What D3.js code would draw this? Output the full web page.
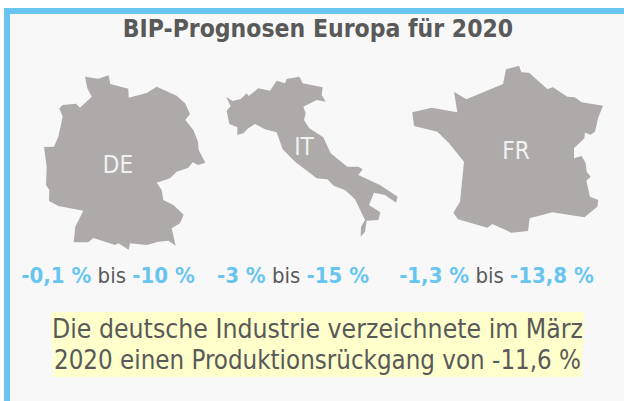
<!DOCTYPE html>
<html>
<head>
<meta charset="utf-8">
<style>
  html, body { margin: 0; padding: 0; background: #fff; }
  svg { display: block; }
  text { font-family: "DejaVu Sans Condensed", "DejaVu Sans", sans-serif; }
</style>
</head>
<body>
<svg id="chart"></svg>
<script src="https://d3js.org/d3.v7.min.js"></script>
<script>

  var title = "BIP-Prognosen Europa für 2020";
  var countries = ["DE", "IT", "FR"];
  var lowForecast = ["-0,1 %", "-3 %", "-1,3 %"];
  var highForecast = ["-10 %", "-15 %", "-13,8 %"];
  var noteLines = [
    "Die deutsche Industrie verzeichnete im März",
    "2020 einen Produktionsrückgang von -11,6 %"
  ];

  // outlines, in 3x crop units
  var outlineDE = [[255,230],[295,236],[326,226],[331,252],[385,266],[386,293],[440,279],[470,260],[530,287],[555,310],[570,342],[556,360],[580,390],[594,425],[596,450],[616,488],[594,495],[578,487],[565,503],[530,515],[510,535],[470,548],[485,570],[490,600],[520,615],[551,644],[540,670],[515,685],[527,737],[505,722],[475,725],[440,735],[390,730],[386,749],[355,730],[345,735],[280,714],[265,727],[221,727],[226,680],[250,632],[175,618],[147,603],[148,570],[138,555],[140,500],[132,441],[162,440],[175,410],[188,350],[178,325],[188,315],[228,311],[240,323],[275,290],[262,265]];
  var outlineIT = [[49,141],[68,153],[92,147],[110,130],[116,138],[145,115],[180,122],[200,92],[225,100],[230,87],[268,80],[278,100],[338,112],[335,135],[347,155],[320,150],[280,170],[287,190],[282,210],[298,235],[340,262],[362,310],[412,350],[445,350],[458,358],[445,375],[510,405],[563,440],[558,458],[525,435],[492,428],[477,465],[511,487],[505,510],[470,512],[465,545],[452,560],[453,530],[465,510],[435,448],[405,420],[372,408],[352,388],[320,385],[255,335],[218,298],[200,247],[165,238],[135,222],[115,235],[100,250],[82,255],[82,232],[58,222],[50,182],[62,168]];
  var outlineFR = [[25,187],[83,173],[160,187],[150,125],[187,148],[297,102],[306,58],[345,47],[352,67],[375,68],[430,117],[447,112],[490,140],[512,142],[533,157],[597,167],[582,205],[573,245],[560,254],[543,248],[541,265],[510,295],[510,325],[533,318],[545,340],[548,365],[560,380],[547,392],[558,440],[583,450],[580,470],[541,502],[445,487],[377,505],[372,543],[322,548],[265,522],[250,533],[162,508],[148,488],[168,455],[180,335],[135,280],[100,245],[30,228]];
  var outlines = [outlineDE, outlineIT, outlineFR];

  var width = 624, height = 401;
  var blue = "#68c5f0", grey = "#aeaaa9", dark = "#595959";

  var svg = d3.select("#chart").attr("width", width).attr("height", height);

  // panel with blue top and left edge
  svg.append("rect").attr("x", 4).attr("y", 8).attr("width", 620).attr("height", 393).attr("fill", blue);
  svg.append("rect").attr("x", 10).attr("y", 14).attr("width", 614).attr("height", 387).attr("fill", "#f8f8f8");

  svg.append("text")
    .attr("x", 318).attr("y", 37)
    .attr("text-anchor", "middle")
    .attr("font-size", 24.5).attr("font-weight", "bold")
    .attr("fill", dark)
    .text(title);

  // each crop origin on the page
  var originX = [0, 210, 404];
  var originY = [0, 50, 50];
  var labelX = [118, 304, 516];
  var labelY = [173, 155, 159];
  var forecastX = [108, 293, 496.5];

  var maps = svg.selectAll("g.country")
    .data(countries)
    .enter().append("g")
    .attr("class", "country");

  maps.append("path")
    .attr("fill", grey)
    .attr("d", function(d, i) {
      var x = d3.scaleLinear().domain([0, 3]).range([originX[i], originX[i] + 1]);
      var y = d3.scaleLinear().domain([0, 3]).range([originY[i], originY[i] + 1]);
      var line = d3.line()
        .x(function(p) { return x(p[0]); })
        .y(function(p) { return y(p[1]); })
        .curve(d3.curveLinearClosed);
      return line(outlines[i]);
    });

  maps.append("text")
    .attr("x", function(d, i) { return labelX[i]; })
    .attr("y", function(d, i) { return labelY[i]; })
    .attr("text-anchor", "middle")
    .attr("font-size", 24)
    .attr("fill", "#f2f2f2")
    .text(function(d) { return d; });

  var forecast = maps.append("text")
    .attr("x", function(d, i) { return forecastX[i]; })
    .attr("y", 283)
    .attr("text-anchor", "middle")
    .attr("font-size", 22)
    .attr("fill", dark);

  forecast.append("tspan")
    .attr("fill", blue).attr("font-weight", "bold")
    .text(function(d, i) { return lowForecast[i]; });
  forecast.append("tspan").text(" bis ");
  forecast.append("tspan")
    .attr("fill", blue).attr("font-weight", "bold")
    .text(function(d, i) { return highForecast[i]; });

  // highlighted note
  var noteY = [338, 369];
  var noteTop = [312, 345];
  var noteBottom = [345, 377];
  var noteWidth = [531, 527];
  var note = svg.selectAll("g.note")
    .data(noteLines)
    .enter().append("g")
    .attr("class", "note");

  var noteText = note.append("text")
    .attr("x", 317.5)
    .attr("y", function(d, i) { return noteY[i]; })
    .attr("text-anchor", "middle")
    .attr("font-size", 26.4)
    .attr("fill", dark)
    .attr("textLength", function(d, i) { return noteWidth[i]; })
    .attr("lengthAdjust", "spacingAndGlyphs")
    .text(function(d) { return d; });

  noteText.each(function(d, i) {
    d3.select(this.parentNode).insert("rect", "text")
      .attr("x", 317.5 - noteWidth[i] / 2 - 1)
      .attr("y", noteTop[i])
      .attr("width", noteWidth[i] + 2)
      .attr("height", noteBottom[i] - noteTop[i])
      .attr("fill", "#ffffcc");
  });

</script>
</body>
</html>
